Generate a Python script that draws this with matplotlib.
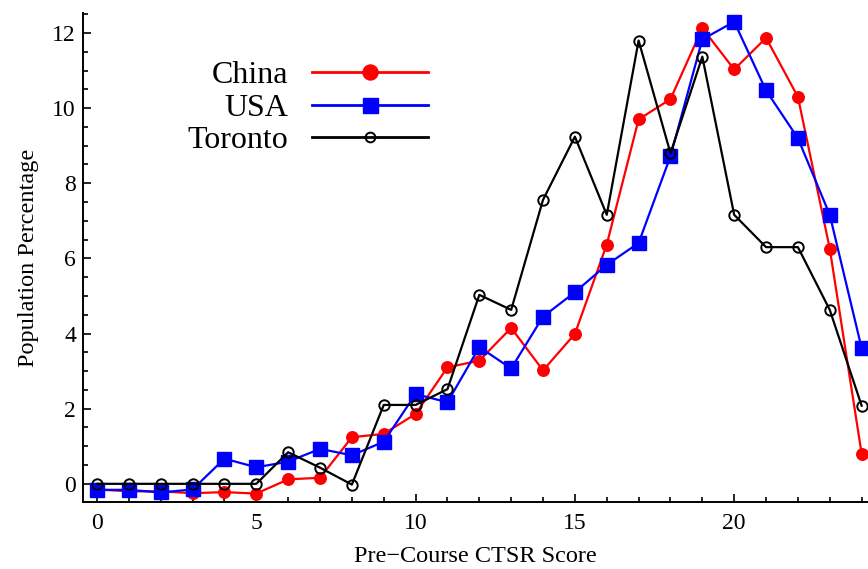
import matplotlib
matplotlib.use("Agg")
import matplotlib.pyplot as plt
from matplotlib.lines import Line2D
from matplotlib.ticker import MultipleLocator

# Pre-course CTSR scores 0..24
scores = list(range(25))
china = [-0.15, -0.2, -0.2, -0.25, -0.22, -0.26, 0.12, 0.16, 1.24, 1.33, 1.86, 3.1,
         3.28, 4.15, 3.02, 3.99, 6.37, 9.7, 10.24, 12.13, 11.03, 11.87, 10.3, 6.26, 0.8]
usa = [-0.16, -0.16, -0.23, -0.15, 0.67, 0.44, 0.59, 0.93, 0.76, 1.12, 2.39, 2.17,
       3.64, 3.07, 4.45, 5.1, 5.83, 6.41, 8.72, 11.83, 12.3, 10.47, 9.2, 7.16, 3.61]
toronto = [0, 0, 0, 0, 0, 0, 0.84, 0.43, -0.02, 2.1, 2.1, 2.52,
           5.03, 4.63, 7.56, 9.24, 7.16, 11.8, 8.8, 11.37, 7.16, 6.3, 6.3, 4.63, 2.08]
names = ["China", "USA", "Toronto"]

plt.rcParams["font.family"] = ["Liberation Serif", "DejaVu Serif"]

fig = plt.figure(figsize=(8.68, 5.69), dpi=100)
ax = fig.add_axes([0.0956, 0.118, 0.9044, 0.859])

ax.plot(scores, china, color="#ff0000", lw=1.6, marker="o", ms=8.3,
        mec="#ff0000", mfc="#ff0000")
ax.plot(scores, usa, color="#0000ff", lw=1.6, marker="s", ms=10.2,
        mec="#0000ff", mfc="#0000ff")
ax.plot(scores, toronto, color="black", lw=1.6, marker="o", ms=7.5,
        mec="black", mfc="none", mew=1.4)

ax.set_xlim(-0.44, 24.2)
ax.set_ylim(-0.48, 12.53)
ax.xaxis.set_major_locator(MultipleLocator(5))
ax.xaxis.set_minor_locator(MultipleLocator(1))
ax.yaxis.set_major_locator(MultipleLocator(2))
ax.yaxis.set_minor_locator(MultipleLocator(0.5))
ax.tick_params(which="both", direction="in", labelsize=17, width=1.2)
ax.tick_params(which="major", length=6)
ax.tick_params(which="minor", length=3.5)
ax.tick_params(axis="x", which="major", pad=8)
ax.tick_params(axis="y", which="major", pad=5)
for side in ("top", "right"):
    ax.spines[side].set_visible(False)
for side in ("left", "bottom"):
    ax.spines[side].set_linewidth(1.4)

ax.set_xlabel("Pre\u2212Course CTSR Score", fontsize=17.5, labelpad=9)
ax.set_ylabel("Population Percentage", fontsize=17.5, labelpad=10)

# legend handles drawn a bit bigger than the data markers, as in the original
handles = [
    Line2D([], [], color="#ff0000", lw=2, marker="o", ms=10.8, mfc="#ff0000", mec="#ff0000"),
    Line2D([], [], color="#0000ff", lw=2, marker="s", ms=10.8, mfc="#0000ff", mec="#0000ff"),
    Line2D([], [], color="black", lw=2, marker="o", ms=7, mfc="none", mec="black", mew=1.4),
]
fig.legend(handles, names, loc="upper right", bbox_to_anchor=(0.493, 0.893), frameon=False,
           markerfirst=False, fontsize=23, handlelength=3.63, handletextpad=0.75,
           labelspacing=0.1, borderpad=0, borderaxespad=0, numpoints=1)

fig.savefig("out.png", dpi=100)
